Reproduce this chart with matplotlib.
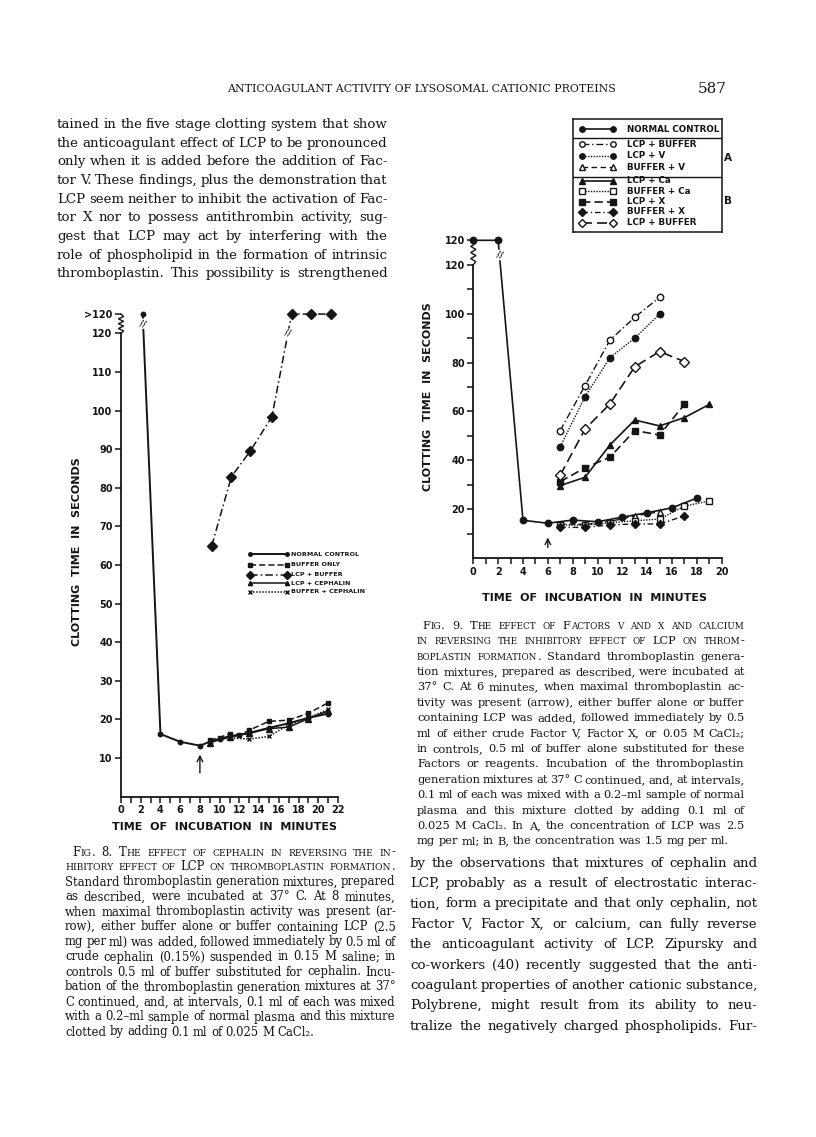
import numpy as np
import matplotlib
matplotlib.use('Agg')
import matplotlib.pyplot as plt
from matplotlib.font_manager import FontProperties
from matplotlib.transforms import blended_transform_factory

# ---- Fig. 8: clotting time (s) vs incubation time (min) ----
f8_normal_x = [2.2, 4, 6, 8, 9, 10, 11, 13, 15, 17, 19, 21]
f8_normal_y = [125, 16.2, 14.2, 13.2, 14.2, 15.0, 15.6, 16.5, 17.8, 19.0, 20.4, 21.5]
f8_buffer_x = [9, 10, 11, 12, 13, 15, 17, 19, 21]
f8_buffer_y = [14.6, 15.3, 16.3, 16.0, 17.2, 19.5, 19.8, 21.6, 24.3]
f8_lcp_buf_x = [9.2, 11.2, 13.1, 15.3, 17.3, 19.3, 21.3]
f8_lcp_buf_y = [65.0, 82.9, 89.5, 98.4, 125, 125, 125]   # 125 = ">120"
f8_lcp_ceph_x = [9, 11, 13, 15, 17, 19, 21]
f8_lcp_ceph_y = [14.0, 15.4, 16.4, 17.6, 18.0, 20.2, 22.2]
f8_buf_ceph_x = [9, 11, 13, 15, 17, 19, 21]
f8_buf_ceph_y = [14.4, 15.2, 14.9, 15.6, 18.6, 20.4, 22.6]
f8_yticks = [10, 20, 30, 40, 50, 60, 70, 80, 90, 100, 110, 120, 125]
f8_ylabels = ['10', '20', '30', '40', '50', '60', '70', '80', '90', '100', '110', '120', '>120']
f8_labels = ['NORMAL CONTROL', 'BUFFER ONLY', 'LCP + BUFFER', 'LCP + CEPHALIN', 'BUFFER + CEPHALIN']

# ---- Fig. 9 ----
f9_normal_x = [0, 2, 4, 6, 8, 10, 12, 14, 16, 18]
f9_normal_y = [130, 130, 15.5, 14.3, 15.6, 14.9, 16.8, 18.6, 20.6, 24.6]   # 130 = ">120"
f9_a_lcp_buf_x = [7, 9, 11, 13, 15]
f9_a_lcp_buf_y = [52.2, 70.6, 89.2, 98.5, 106.7]
f9_lcp_v_x = [7, 9, 11, 13, 15]
f9_lcp_v_y = [45.6, 66.1, 82.0, 90.0, 99.8]
f9_buf_v_x = [7, 9, 11, 13, 15]
f9_buf_v_y = [14.0, 13.8, 15.0, 17.3, 19.0]
f9_lcp_ca_x = [7, 9, 11, 13, 15, 17, 19]
f9_lcp_ca_y = [29.7, 33.1, 46.3, 56.5, 54.1, 57.5, 62.9]
f9_buf_ca_x = [7, 9, 11, 13, 15, 17, 19]
f9_buf_ca_y = [13.5, 13.5, 14.5, 15.3, 16.0, 21.3, 23.4]
f9_lcp_x_x = [7, 9, 11, 13, 15, 17]
f9_lcp_x_y = [31.3, 37.0, 41.3, 52.2, 50.4, 62.9]
f9_buf_x_x = [7, 9, 11, 13, 15, 17]
f9_buf_x_y = [12.6, 12.6, 13.6, 14.0, 14.0, 17.3]
f9_b_lcp_buf_x = [7, 9, 11, 13, 15, 17]
f9_b_lcp_buf_y = [34.0, 52.8, 63.1, 78.3, 84.5, 80.4]
f9_yticks = [10, 20, 30, 40, 50, 60, 70, 80, 90, 100, 110, 120, 130]
f9_ylabels = ['', '20', '', '40', '', '60', '', '80', '', '100', '', '120', '120']
f9_labels = ['NORMAL CONTROL', 'LCP + BUFFER', 'LCP + V', 'BUFFER + V', 'LCP + Ca',
             'BUFFER + Ca', 'LCP + X', 'BUFFER + X', 'LCP + BUFFER']

# ---- page text ----
header = 'ANTICOAGULANT ACTIVITY OF LYSOSOMAL CATIONIC PROTEINS'
page_no = '587'
body_left = [
    'tained in the five stage clotting system that show',
    'the anticoagulant effect of LCP to be pronounced',
    'only when it is added before the addition of Fac-',
    'tor V.  These findings, plus the demonstration that',
    'LCP seem neither to inhibit the activation of Fac-',
    'tor X nor to possess antithrombin activity, sug-',
    'gest that LCP may act by interfering with the',
    'role of phospholipid in the formation of intrinsic',
    'thromboplastin.  This possibility is strengthened',
]
body_right = [
    'by the observations that mixtures of cephalin and',
    'LCP, probably as a result of electrostatic interac-',
    'tion, form a precipitate and that only cephalin, not',
    'Factor V, Factor X, or calcium, can fully reverse',
    'the anticoagulant activity of LCP.  Zipursky and',
    'co-workers (40) recently suggested that the anti-',
    'coagulant properties of another cationic substance,',
    'Polybrene, might result from its ability to neu-',
    'tralize the negatively charged phospholipids.  Fur-',
]
# (line, number of leading small-caps words)
cap8 = [
    ('Fig. 8.  The effect of cephalin in reversing the in-', 99),
    ('hibitory effect of LCP on thromboplastin formation.', 99),
    ('Standard thromboplastin generation mixtures, prepared', 0),
    ('as described, were incubated at 37° C.  At 8 minutes,', 0),
    ('when maximal thromboplastin activity was present (ar-', 0),
    ('row), either buffer alone or buffer containing LCP (2.5', 0),
    ('mg per ml) was added, followed immediately by 0.5 ml of', 0),
    ('crude cephalin (0.15%) suspended in 0.15 M saline; in', 0),
    ('controls 0.5 ml of buffer substituted for cephalin.  Incu-', 0),
    ('bation of the thromboplastin generation mixtures at 37°', 0),
    ('C continued, and, at intervals, 0.1 ml of each was mixed', 0),
    ('with a 0.2–ml sample of normal plasma and this mixture', 0),
    ('clotted by adding 0.1 ml of 0.025 M CaCl₂.', 0),
]
cap9 = [
    ('Fig. 9.  The effect of Factors v and x and calcium', 99),
    ('in reversing the inhibitory effect of LCP on throm-', 99),
    ('boplastin formation.  Standard thromboplastin genera-', 2),
    ('tion mixtures, prepared as described, were incubated at', 0),
    ('37° C.  At 6 minutes, when maximal thromboplastin ac-', 0),
    ('tivity was present (arrow), either buffer alone or buffer', 0),
    ('containing LCP was added, followed immediately by 0.5', 0),
    ('ml of either crude Factor V, Factor X, or 0.05 M CaCl₂;', 0),
    ('in controls, 0.5 ml of buffer alone substituted for these', 0),
    ('Factors or reagents.  Incubation of the thromboplastin', 0),
    ('generation mixtures at 37° C continued, and, at intervals,', 0),
    ('0.1 ml of each was mixed with a 0.2–ml sample of normal', 0),
    ('plasma and this mixture clotted by adding 0.1 ml of', 0),
    ('0.025 M CaCl₂.  In A, the concentration of LCP was 2.5', 0),
    ('mg per ml; in B, the concentration was 1.5 mg per ml.', 0),
]

W, H = 816, 1137
INK = '#151515'
SERIF = ['DejaVu Serif']
SANS = ['DejaVu Sans']

fig = plt.figure(figsize=(W / 100, H / 100), dpi=100)
fig.patch.set_facecolor('white')
renderer = fig.canvas.get_renderer()
_props = {}


def tw(s, size):
    size = round(size, 3)
    if size not in _props:
        _props[size] = FontProperties(family=SERIF, size=size)
    w, h, d = renderer.get_text_width_height_descent(s, _props[size], ismath=False)
    return w


def pieces(word, size, sc):
    if not sc:
        return [(word, size)]
    out = []
    for ch in word:
        s = size * 0.78 if ch.islower() else size
        c = ch.upper()
        if out and out[-1][1] == s:
            out[-1] = (out[-1][0] + c, s)
        else:
            out.append((c, s))
    return out


def measure(words, size, n_sc):
    segs = [pieces(w, size, i < n_sc) for i, w in enumerate(words)]
    widths = [sum(tw(t, s) + 0.4 for t, s in seg) for seg in segs]
    return segs, widths


def set_line(text, x0, x1, yc, size, n_sc=0, justify=True, dy=4.0):
    words = text.split()
    segs, widths = measure(words, size, n_sc)
    space = 0.26 * size * 100 / 72
    if justify and len(words) > 1:
        gap = (x1 - x0 - sum(widths)) / (len(words) - 1)
    else:
        gap = space
    x = x0
    for seg, w in zip(segs, widths):
        xx = x
        for t, s in seg:
            fig.text(xx / W, 1 - (yc + dy) / H, t, family=SERIF, size=s,
                     ha='left', va='baseline', color=INK)
            xx += tw(t, s) + 0.4
        x += w + gap


def block(lines, x0, x1, y0, step, size, dy, last_justified=False, indent=0):
    lines = [ln if isinstance(ln, tuple) else (ln, 0) for ln in lines]
    # one size for the whole block: largest that lets every line fit with a min gap
    fit = size
    for i, (txt, nsc) in enumerate(lines):
        words = txt.split()
        _, widths = measure(words, size, nsc)
        need = sum(widths) + 0.26 * size * 100 / 72 * 0.8 * (len(words) - 1)
        avail = x1 - x0 - (indent if i == 0 else 0)
        fit = min(fit, size * avail / need)
    for i, (txt, nsc) in enumerate(lines):
        last = (i == len(lines) - 1) and not last_justified
        xs = x0 + (indent if i == 0 else 0)
        set_line(txt, xs, x1, y0 + i * step, fit, nsc, justify=not last, dy=dy)


# page header
hs = 8.0 * 387 / tw(header, 8.0)
fig.text(421 / W, 1 - 92 / H, header, family=SERIF, size=hs, ha='center', va='baseline', color=INK)
fig.text(712 / W, 1 - 93 / H, page_no, family=SERIF, size=11, ha='center', va='baseline', color=INK)

block(body_left, 57, 388, 123.5, 18.65, 10.6, 4.6, last_justified=True)
block(body_right, 410, 758, 862, 20.4, 10.6, 4.6, last_justified=True)
block(cap8, 65, 396, 851.7, 15.0, 8.9, 3.8, indent=7)
block(cap9, 417, 745, 625, 15.4, 8.9, 3.8, indent=5)


# ---------------- charts ----------------
def px_axes(left, right, top, bottom):
    return fig.add_axes([left / W, 1 - bottom / H, (right - left) / W, (bottom - top) / H])


def series(ax, x, y, st, **kw):
    ax.plot(x, y, color=INK, ls=st['ls'], lw=st['lw'], marker=st['m'], ms=st['ms'],
            mfc=INK if st['fill'] else 'white', mec=INK, mew=1.0, clip_on=False,
            zorder=3, **kw)


def squiggle(ax, y0, y1, amp_px, n=9):
    tr = blended_transform_factory(ax.transAxes, ax.transData)
    ys = np.linspace(y0, y1, n)
    w_px = ax.get_position().width * W
    xs = np.zeros(n)
    xs[1:-1] = np.where(np.arange(1, n - 1) % 2, 1, -1) * amp_px / w_px
    ax.plot(xs, ys, transform=tr, color=INK, lw=1.0, clip_on=False)


def brk(ax, xs, ys, y, size=7):
    for i in range(len(xs) - 1):
        if (ys[i] - y) * (ys[i + 1] - y) < 0:
            x = xs[i] + (y - ys[i]) * (xs[i + 1] - xs[i]) / (ys[i + 1] - ys[i])
            ax.text(x, y, '//', ha='center', va='center', fontsize=size, family=SANS,
                    fontweight='bold', color=INK, rotation=-15, zorder=5,
                    bbox=dict(fc='white', ec='none', pad=0.3))
            return


def style_axes(ax, xmax, yticks, ylabels, ytop):
    ax.set_facecolor('none')
    ax.spines[['top', 'right']].set_visible(False)
    for s in ('left', 'bottom'):
        ax.spines[s].set_linewidth(1.3)
        ax.spines[s].set_color(INK)
    ax.spines['left'].set_bounds(0, 120)
    ax.set_xlim(0, xmax)
    ax.set_xticks(range(0, xmax + 1, 2), [str(v) for v in range(0, xmax + 1, 2)],
                  fontsize=7, fontweight='bold', family=SANS)
    ax.set_xticks(range(0, xmax + 1), minor=True)
    ax.set_yticks(yticks, ylabels, fontsize=7, fontweight='bold', family=SANS)
    ax.tick_params(which='both', direction='out', length=4, width=1.1, color=INK,
                   labelcolor=INK, pad=2)
    squiggle(ax, 120, ytop, 2.5)


S8 = {
    'normal': dict(ls='-', lw=1.4, m='o', ms=3.2, fill=True),
    'buffer': dict(ls=(0, (4, 2)), lw=1.1, m='s', ms=3.4, fill=True),
    'lcpbuf': dict(ls=(0, (5, 2, 1, 2)), lw=1.1, m='D', ms=5, fill=True),
    'lcpceph': dict(ls='-', lw=1.1, m='^', ms=3.8, fill=True),
    'bufceph': dict(ls=(0, (1, 1)), lw=1.1, m='x', ms=3.5, fill=True),
}

ax8 = px_axes(121, 338, 310.2, 796.6)
ax8.set_ylim(0, 126)
style_axes(ax8, 22, f8_yticks, f8_ylabels, 125)
series(ax8, f8_normal_x, f8_normal_y, S8['normal'])
series(ax8, f8_buffer_x, f8_buffer_y, S8['buffer'])
series(ax8, f8_lcp_buf_x, f8_lcp_buf_y, S8['lcpbuf'])
series(ax8, f8_lcp_ceph_x, f8_lcp_ceph_y, S8['lcpceph'])
series(ax8, f8_buf_ceph_x, f8_buf_ceph_y, S8['bufceph'])
brk(ax8, f8_normal_x, f8_normal_y, 122.5, 6)
brk(ax8, f8_lcp_buf_x, f8_lcp_buf_y, 120, 6)
ax8.annotate('', xy=(8, 11.6), xytext=(8, 5.4),
             arrowprops=dict(arrowstyle='->', lw=1.0, color=INK))

# fig. 8 legend
lg8 = px_axes(245, 400, 548, 598)
lg8.set_xlim(245, 400)
lg8.set_ylim(598, 548)
lg8.axis('off')
for yy, key, lab in zip([554.3, 565, 575, 583.3, 591.7],
                        ['normal', 'buffer', 'lcpbuf', 'lcpceph', 'bufceph'], f8_labels):
    st = dict(S8[key])
    st['ms'] = st['ms'] * 0.8
    series(lg8, [250, 287], [yy, yy], st)
    lg8.text(291, yy, lab, fontsize=4.6, fontweight='bold', family=SANS, color=INK,
             va='center', ha='left')

fig.text(76.7 / W, 1 - 552 / H, 'CLOTTING  TIME  IN  SECONDS', rotation=90, family=SANS,
         fontweight='bold', fontsize=8, ha='center', va='center', color=INK)
fig.text(224 / W, 1 - 827 / H, 'TIME  OF  INCUBATION  IN  MINUTES', family=SANS,
         fontweight='bold', fontsize=8, ha='center', va='center', color=INK)

S9 = {
    'normal': dict(ls='-', lw=1.2, m='o', ms=4.6, fill=True),
    'a_lcpbuf': dict(ls=(0, (5, 2, 1, 2)), lw=1.0, m='o', ms=4.6, fill=False),
    'lcpv': dict(ls=(0, (1, 1)), lw=1.0, m='o', ms=4.6, fill=True),
    'bufv': dict(ls=(0, (4, 2.5)), lw=1.0, m='^', ms=4.6, fill=False),
    'lcpca': dict(ls='-', lw=1.2, m='^', ms=4.6, fill=True),
    'bufca': dict(ls=(0, (1, 1)), lw=1.0, m='s', ms=4.4, fill=False),
    'lcpx': dict(ls=(0, (5, 2.5)), lw=1.2, m='s', ms=4.4, fill=True),
    'bufx': dict(ls=(0, (4, 2, 1, 2)), lw=1.0, m='D', ms=4.4, fill=True),
    'b_lcpbuf': dict(ls=(0, (6, 3)), lw=1.2, m='D', ms=4.6, fill=False),
}

ax9 = px_axes(473.3, 721.7, 240.3, 558.2)
ax9.set_ylim(0, 130)
style_axes(ax9, 20, f9_yticks, f9_ylabels, 130)
series(ax9, f9_normal_x, f9_normal_y, S9['normal'])
series(ax9, f9_a_lcp_buf_x, f9_a_lcp_buf_y, S9['a_lcpbuf'])
series(ax9, f9_lcp_v_x, f9_lcp_v_y, S9['lcpv'])
series(ax9, f9_buf_v_x, f9_buf_v_y, S9['bufv'])
series(ax9, f9_lcp_ca_x, f9_lcp_ca_y, S9['lcpca'])
series(ax9, f9_buf_ca_x, f9_buf_ca_y, S9['bufca'])
series(ax9, f9_lcp_x_x, f9_lcp_x_y, S9['lcpx'])
series(ax9, f9_buf_x_x, f9_buf_x_y, S9['bufx'])
series(ax9, f9_b_lcp_buf_x, f9_b_lcp_buf_y, S9['b_lcpbuf'])
brk(ax9, f9_normal_x, f9_normal_y, 124, 6)
ax9.annotate('', xy=(6, 9.6), xytext=(6, 3.2),
             arrowprops=dict(arrowstyle='->', lw=1.0, color=INK))

# fig. 9 legend box (rows grouped: control / A / B)
lg9 = px_axes(572.7, 721.7, 119, 232.3)
lg9.set_xlim(572.7, 721.7)
lg9.set_ylim(232.3, 119)
lg9.set_xticks([])
lg9.set_yticks([])
for s in lg9.spines.values():
    s.set_linewidth(1.1)
    s.set_color(INK)
lg9.axhline(138.3, color=INK, lw=1.0)
lg9.axhline(176.7, color=INK, lw=1.0)
rows9 = [129.3, 144.3, 156, 167.3, 181, 191.3, 201.7, 212, 222.7]
keys9 = ['normal', 'a_lcpbuf', 'lcpv', 'bufv', 'lcpca', 'bufca', 'lcpx', 'bufx', 'b_lcpbuf']
for yy, key, lab in zip(rows9, keys9, f9_labels):
    st = dict(S9[key])
    st['ms'] = st['ms'] * 0.85
    series(lg9, [582, 613], [yy, yy], st)
    lg9.text(626.7, yy, lab, fontsize=6.3, fontweight='bold', family=SANS, color=INK,
             va='center', ha='left')
fig.text(728 / W, 1 - 158.3 / H, 'A', family=SANS, fontweight='bold', fontsize=7.5,
         ha='center', va='center', color=INK)
fig.text(728 / W, 1 - 200.7 / H, 'B', family=SANS, fontweight='bold', fontsize=7.5,
         ha='center', va='center', color=INK)

fig.text(428 / W, 1 - 397 / H, 'CLOTTING  TIME  IN  SECONDS', rotation=90, family=SANS,
         fontweight='bold', fontsize=8, ha='center', va='center', color=INK)
fig.text(594 / W, 1 - 598 / H, 'TIME  OF  INCUBATION  IN  MINUTES', family=SANS,
         fontweight='bold', fontsize=8, ha='center', va='center', color=INK)

fig.savefig('out.png', dpi=100, facecolor='white')
